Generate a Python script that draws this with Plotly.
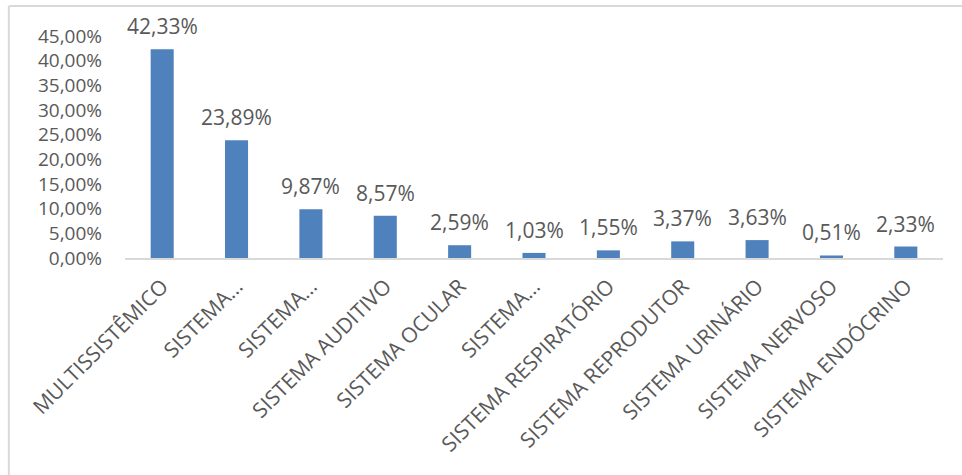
import plotly.graph_objects as go

# Percentage share by body system
categories = [
    "MULTISSISTÊMICO",
    "SISTEMA…",
    "SISTEMA…",
    "SISTEMA AUDITIVO",
    "SISTEMA OCULAR",
    "SISTEMA…",
    "SISTEMA RESPIRATÓRIO",
    "SISTEMA REPRODUTOR",
    "SISTEMA URINÁRIO",
    "SISTEMA NERVOSO",
    "SISTEMA ENDÓCRINO",
]
values = [42.33, 23.89, 9.87, 8.57, 2.59, 1.03, 1.55, 3.37, 3.63, 0.51, 2.33]
y_ticks = [0, 5, 10, 15, 20, 25, 30, 35, 40, 45]

FONT = "Open Sans"
SIZE = 21
TEXT = "#595959"
BAR = "#4F81BD"

def pct(v):
    return f"{v:.2f}%".replace(".", ",")

positions = list(range(len(categories)))

fig = go.Figure(
    go.Bar(
        x=positions,
        y=values,
        marker=dict(color=BAR, line=dict(width=0)),
        width=0.31,
        hoverinfo="skip",
    )
)

# value labels above each bar
for p, v in zip(positions, values):
    fig.add_annotation(
        x=p, y=v, text=pct(v), showarrow=False,
        xref="x", yref="y", yanchor="middle", yshift=23,
        font=dict(family=FONT, size=SIZE, color=TEXT),
    )

# chart frame (top and left edges)
fig.add_shape(type="line", xref="paper", yref="paper",
              x0=-0.142, x1=1.1, y0=1.135, y1=1.135,
              line=dict(color="#d9d9d9", width=2))
fig.add_shape(type="line", xref="paper", yref="paper",
              x0=-0.142, x1=-0.142, y0=1.135, y1=-1.0,
              line=dict(color="#d9d9d9", width=2))

fig.update_layout(
    width=962, height=475,
    margin=dict(l=125, r=19, t=36, b=217),
    paper_bgcolor="white", plot_bgcolor="white",
    showlegend=False,
    font=dict(family=FONT, size=SIZE, color=TEXT),
    xaxis=dict(
        tickmode="array", tickvals=positions, ticktext=categories,
        range=[-0.5, len(categories) - 0.5],
        tickangle=-45, showgrid=False, zeroline=False,
        showline=True, linecolor="#d9d9d9", linewidth=1.5,
        ticks="", ticklabelstandoff=6,
        tickfont=dict(family=FONT, size=SIZE, color=TEXT),
    ),
    yaxis=dict(
        range=[0, 45], tickmode="array", tickvals=y_ticks,
        ticktext=[pct(t) for t in y_ticks],
        showgrid=False, zeroline=False, showline=False, ticks="",
        ticklabelstandoff=22,
        tickfont=dict(family=FONT, size=19, color=TEXT),
    ),
)

fig.write_html("out.html")
